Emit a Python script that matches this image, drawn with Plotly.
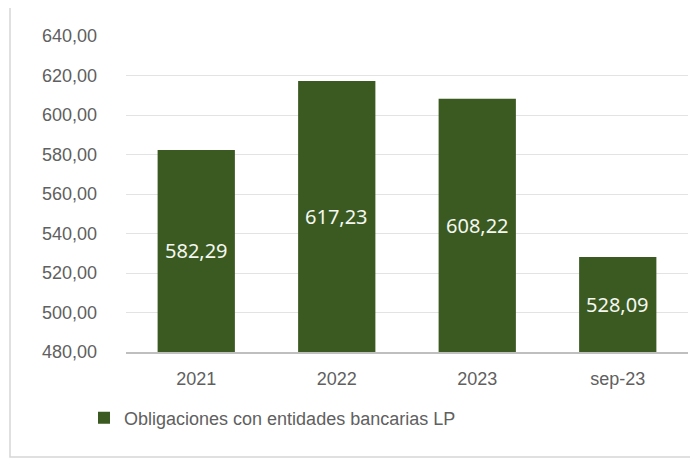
import plotly.graph_objects as go

categories = ["2021", "2022", "2023", "sep-23"]
values = [582.29, 617.23, 608.22, 528.09]
series_name = "Obligaciones con entidades bancarias LP"
y_ticks = [480, 500, 520, 540, 560, 580, 600, 620, 640]
y_min, y_max = 480, 640

# page body adds an 8px margin; figure is sized so the picture lines up
OFF = 8
W, H = 698 - OFF, 459 - OFF
L, T = 126 - OFF, 36 - OFF
pw, ph = 562, 316
R, B = W - L - pw, H - T - ph

def px_x(p):
    return (p - OFF - L) / pw

def px_y(p):
    return (T + ph - (p - OFF)) / ph

bar_color = "#3b5a21"

fig = go.Figure()
fig.add_trace(go.Bar(
    x=categories,
    y=values,
    name=series_name,
    marker=dict(color=bar_color, line=dict(width=0)),
    width=0.55,
    textposition="none",
    showlegend=True,
))

# data labels centred in the visible part of each bar (x given as category index)
annotations = []
for i, v in enumerate(values):
    annotations.append(dict(
        x=i, y=(v + y_min) / 2, xref="x", yref="y",
        text=f"{v:.2f}".replace(".", ","),
        showarrow=False,
        font=dict(family="Noto Sans", size=20, color="#f4f7f0"),
        xanchor="center", yanchor="middle",
    ))

fig.update_layout(
    width=W, height=H,
    margin=dict(l=L, r=R, t=T, b=B, autoexpand=False),
    paper_bgcolor="#ffffff",
    plot_bgcolor="#ffffff",
    separators=",.",
    font=dict(family="Liberation Sans", color="#595959"),
    xaxis=dict(
        type="category",
        categoryarray=categories,
        range=[-0.5, len(categories) - 0.5],
        showgrid=False,
        showline=True,
        linecolor="#bfbfbf",
        linewidth=1.5,
        ticks="",
        tickfont=dict(size=18, color="#606060", family="Liberation Sans"),
        ticklabelstandoff=10,
    ),
    yaxis=dict(
        range=[y_min, y_max],
        tickvals=y_ticks,
        tickformat=".2f",
        showgrid=True,
        gridcolor="#e3e3e3",
        gridwidth=1,
        zeroline=False,
        showline=False,
        ticks="",
        tickfont=dict(size=18, color="#606060", family="Liberation Sans"),
        ticklabelstandoff=28,
    ),
    legend=dict(
        orientation="h",
        x=px_x(84), xanchor="left",
        y=px_y(418), yanchor="middle",
        font=dict(size=18, color="#606060", family="Liberation Sans"),
        itemwidth=30,
        bgcolor="rgba(0,0,0,0)",
    ),
    annotations=annotations,
    shapes=[dict(
        type="rect", xref="paper", yref="paper",
        x0=px_x(10), x1=px_x(697), y0=px_y(457), y1=px_y(5),
        line=dict(color="#d6d6d6", width=1.5),
        fillcolor="rgba(0,0,0,0)", layer="below",
    )],
)

fig.write_html("out.html")
